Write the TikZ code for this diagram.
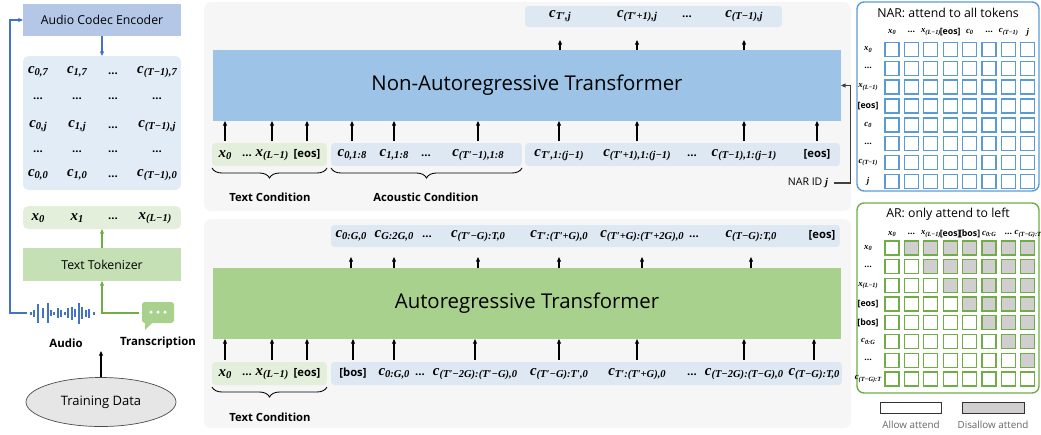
\documentclass[tikz,border=0pt]{standalone}
\usepackage{fontspec}
\setmainfont{Open Sans}
\newfontfamily\lsf{Liberation Serif}
\usetikzlibrary{positioning,calc,arrows.meta,decorations.pathreplacing,shapes.geometric}

\definecolor{encblue}{HTML}{B4C7E7}
\definecolor{codebg}{HTML}{E2ECF6}
\definecolor{txtbg}{HTML}{E3EFDA}
\definecolor{tokgreen}{HTML}{C5E0B4}
\definecolor{narblue}{HTML}{9DC3E6}
\definecolor{argreen}{HTML}{A9D18E}
\definecolor{panelbg}{HTML}{F6F6F6}
\definecolor{rowblue}{HTML}{DEE8F3}
\definecolor{lineblue}{HTML}{4472C4}
\definecolor{linegreen}{HTML}{70AD47}
\definecolor{gridblue}{HTML}{5B9BD5}
\definecolor{gridgreen}{HTML}{70AD47}
\definecolor{maskgray}{HTML}{D0CECE}
\definecolor{datagray}{HTML}{E7E6E6}

% token with subscript, in bold italic serif
\newcommand{\subfs}{6}
\newcommand{\cv}[2]{{\lsf\bfseries\itshape #1}\raisebox{-0.3ex}{\fontsize{\subfs}{\subfs}\selectfont\lsf\bfseries\itshape #2}}
\newcommand{\vj}{{\lsf\bfseries\itshape j}}
\newcommand{\tdots}{...}

\tikzset{
  box/.style={inner sep=0pt, outer sep=0pt},
  mlbl/.style={inner sep=0pt, font=\fontsize{8.5}{9}\selectfont\bfseries\renewcommand{\subfs}{6}},
  tlbl/.style={inner sep=0pt, font=\fontsize{6.4}{7}\selectfont\bfseries},
  glbl/.style={inner sep=0pt, font=\fontsize{5}{6}\selectfont\bfseries\renewcommand{\subfs}{3.6}},
  arr/.style={-{Triangle[length=2.6pt,width=2.2pt]}, line width=0.6pt},
  brc/.style={decorate, decoration={brace, mirror, amplitude=0.2cm}, line width=0.5pt},
  cell/.style={draw, line width=0.7pt, fill=white, minimum size=0.28cm, inner sep=0pt},
}

\begin{document}
\begin{tikzpicture}[x=0.02cm, y=-0.02cm]
\useasboundingbox (0,0) rectangle (1041,434);%

% Drawing audio codec encoder and codes
\node[box, fill=encblue, minimum width=3.16cm, minimum height=0.64cm, font=\fontsize{7}{9}\selectfont] (enc) at (102,20) {Audio Codec Encoder};%
\node[box, fill=codebg, rounded corners=3pt, minimum width=3.16cm, minimum height=2.68cm] (codes) at (102,123) {};%
\draw[arr, lineblue] (enc.south) -- (codes.north);%

% Marking codes
\node[mlbl] (c07) at (38,72) {\cv{c}{0,7}};%
\node[mlbl] (c17) at (77,72) {\cv{c}{1,7}};%
\node[tlbl] (cd7) at (113,74) {...};%
\node[mlbl] (cT7) at (157,72) {\cv{c}{(T−1),7}};%
\node[tlbl] (d01) at (38,99) {...};%
\node[tlbl] (d11) at (77,99) {...};%
\node[tlbl] (dd1) at (113,99) {...};%
\node[tlbl] (dT1) at (157,99) {...};%
\node[mlbl] (c0j) at (38,126) {\cv{c}{0,j}};%
\node[mlbl] (c1j) at (77,126) {\cv{c}{1,j}};%
\node[tlbl] (cdj) at (113,128) {...};%
\node[mlbl] (cTj) at (157,126) {\cv{c}{(T−1),j}};%
\node[tlbl] (d02) at (38,152) {...};%
\node[tlbl] (d12) at (77,152) {...};%
\node[tlbl] (dd2) at (113,152) {...};%
\node[tlbl] (dT2) at (157,152) {...};%
\node[mlbl] (c00) at (38,175) {\cv{c}{0,0}};%
\node[mlbl] (c10) at (77,175) {\cv{c}{1,0}};%
\node[tlbl] (cd0) at (113,177) {...};%
\node[mlbl] (cT0) at (157,175) {\cv{c}{(T−1),0}};%

% Drawing text tokens and tokenizer
\node[box, fill=txtbg, rounded corners=3pt, minimum width=3.16cm, minimum height=0.46cm] (xtok) at (102,217.5) {};%
\node[mlbl] (x0) at (38,218) {\cv{x}{0}};%
\node[mlbl] (x1) at (77,218) {\cv{x}{1}};%
\node[tlbl] (xd) at (113,219) {...};%
\node[mlbl] (xL) at (155,218) {\cv{x}{(L−1)}};%
\node[box, fill=tokgreen, minimum width=3.16cm, minimum height=0.66cm, font=\fontsize{7}{9}\selectfont] (tok) at (102,264.5) {Text Tokenizer};%
\draw[arr, linegreen] (tok.north) -- (xtok.south);%

% Drawing audio wave
\foreach \x/\h in {31/3,34/7,38/19,43/10,48/20,51/6,54/3,58/10,61/7,65/3,68/10,72/13,75/8,79/21,82/12,86/7,89/9,94/3}
  \draw[lineblue, line width=1.1pt] (\x,{313-\h/2}) -- (\x,{313+\h/2});%
\coordinate (audio) at (27,313);%
\draw[arr, lineblue] (audio) -- ++(-17,0) |- (enc.west);%
\node[inner sep=0pt, font=\fontsize{6.5}{8}\selectfont\bfseries] (audiolbl) at (66,343) {Audio};%

% Drawing transcription bubble
\fill[argreen, rounded corners=1.5pt] (142,302) rectangle (174,323);%
\fill[argreen] (145,321) -- (145,330) -- (154,321) -- cycle;%
\foreach \x in {151,158,165}
  \fill[white] (\x,312) circle[radius=0.035cm];%
\coordinate (trans) at (139,313);%
\draw[arr, linegreen] (trans) -| (tok.south);%
\node[inner sep=0pt, font=\fontsize{6.5}{8}\selectfont\bfseries] (translbl) at (158,343) {Transcription};%

% Drawing training data
\node[ellipse, draw=black!70, fill=datagray, minimum width=3.0cm, minimum height=0.98cm, inner sep=0pt, font=\fontsize{7.4}{9}\selectfont] (data) at (101,402) {Training Data};%
\coordinate (datain) at (101,351);%
\draw[arr] (data.north) -- (datain);%

% Drawing panels
\fill[panelbg, rounded corners=4pt] (204,2) rectangle (851,211);%
\fill[panelbg, rounded corners=4pt] (204,219) rectangle (851,428);%

% Drawing non-autoregressive transformer
\node[box, fill=narblue, minimum width=12.56cm, minimum height=1.42cm, font=\fontsize{11.6}{13}\selectfont] (nar) at (527,85.5) {Non-Autoregressive Transformer};%
\node[box, fill=rowblue, rounded corners=2pt, minimum width=5.14cm, minimum height=0.42cm] (narout) at (653.5,16.5) {};%
\node[box, fill=txtbg, rounded corners=2pt, minimum width=2.30cm, minimum height=0.46cm] (nartxt) at (269.5,154.5) {};%
\node[box, fill=rowblue, rounded corners=2pt, minimum width=3.82cm, minimum height=0.46cm] (naracu) at (426.5,154.5) {};%
\node[box, fill=rowblue, rounded corners=2pt, minimum width=6.30cm, minimum height=0.46cm] (nartgt) at (682.5,154.5) {};%

% Marking NAR inputs
\node[mlbl] (ni1) at (225,155) {\cv{x}{0}};%
\node[tlbl] (ni2) at (247,156) {...};%
\node[mlbl] (ni3) at (272,155) {\cv{x}{(L−1)}};%
\node[tlbl] (ni4) at (307,154) {[eos]};%
\node[mlbl] (ni5) at (352,155) {\cv{c}{0,1:8}};%
\node[mlbl] (ni6) at (394,155) {\cv{c}{1,1:8}};%
\node[tlbl] (ni7) at (426,156) {...};%
\node[mlbl] (ni8) at (478,155) {\cv{c}{(T′−1),1:8}};%
\node[mlbl] (ni9) at (559,155) {\cv{c}{T′,1:(j−1)}};%
\node[mlbl] (ni10) at (637,155) {\cv{c}{(T′+1),1:(j−1)}};%
\node[tlbl] (ni11) at (692,156) {...};%
\node[mlbl] (ni12) at (744,155) {\cv{c}{(T−1),1:(j−1)}};%
\node[tlbl] (ni13) at (817,154) {[eos]};%
\foreach \n in {ni1,ni3,ni4,ni5,ni6,ni8,ni9,ni10,ni12,ni13}
  \draw[arr] ($(\n |- nartxt.north)+(0,-2)$) -- (\n |- nar.south);%

% Marking NAR outputs
\node[mlbl] (no1) at (560,16) {\cv{c}{T′,j}};%
\node[mlbl] (no2) at (637,16) {\cv{c}{(T′+1),j}};%
\node[tlbl] (no3) at (687,17) {...};%
\node[mlbl] (no4) at (744,16) {\cv{c}{(T−1),j}};%
\foreach \n in {no1,no2,no4}
  \draw[arr] (\n |- nar.north) -- ($(\n |- narout.south)+(0,13)$);%

% Drawing conditions
\draw[brc] ([yshift=-0.04cm]nartxt.south west) -- ([yshift=-0.04cm]nartxt.south east);%
\node[tlbl] (txtcond) at (270,197) {Text Condition};%
\draw[brc] ([yshift=-0.04cm]naracu.south west) -- ([yshift=-0.04cm]naracu.south east);%
\node[tlbl] (acucond) at (426,197) {Acoustic Condition};%

% Marking NAR ID
\node[inner sep=0pt, font=\fontsize{6}{7}\selectfont] (narid) at (808,183) {NAR ID \vj};%
\draw[arr, black!75] ($(narid.east)+(6,0)$) -| ($(nar.east)+(10,0)$) -- (nar.east);%

% Drawing autoregressive transformer
\node[box, fill=argreen, minimum width=12.56cm, minimum height=1.42cm, font=\fontsize{11.6}{13}\selectfont] (ar) at (527,303.5) {Autoregressive Transformer};%
\node[box, fill=rowblue, rounded corners=2pt, minimum width=10.18cm, minimum height=0.44cm] (arout) at (585.5,236) {};%
\node[box, fill=txtbg, rounded corners=2pt, minimum width=2.30cm, minimum height=0.46cm] (artxt) at (269.5,373.5) {};%
\node[box, fill=rowblue, rounded corners=2pt, minimum width=10.22cm, minimum height=0.46cm] (arcode) at (586.5,373.5) {};%

% Marking AR outputs
\node[mlbl] (ao1) at (351,236) {\cv{c}{0:G,0}};%
\node[mlbl] (ao2) at (394,236) {\cv{c}{G:2G,0}};%
\node[tlbl] (ao3) at (427,237) {...};%
\node[mlbl] (ao4) at (478,236) {\cv{c}{(T′−G):T,0}};%
\node[mlbl] (ao5) at (559,236) {\cv{c}{T′:(T′+G),0}};%
\node[mlbl] (ao6) at (642,236) {\cv{c}{(T′+G):(T′+2G),0}};%
\node[tlbl] (ao7) at (694,237) {...};%
\node[mlbl] (ao8) at (751,236) {\cv{c}{(T−G):T,0}};%
\node[tlbl] (ao9) at (822,235) {[eos]};%
\foreach \n in {ao1,ao2,ao4,ao5,ao6,ao8}
  \draw[arr] (\n |- ar.north) -- ($(\n |- arout.south)+(0,10)$);%

% Marking AR inputs
\node[mlbl] (ai1) at (225,374) {\cv{x}{0}};%
\node[tlbl] (ai2) at (247,375) {...};%
\node[mlbl] (ai3) at (272,374) {\cv{x}{(L−1)}};%
\node[tlbl] (ai4) at (307,373) {[eos]};%
\node[tlbl] (ai5) at (353,373) {[bos]};%
\node[mlbl] (ai6) at (394,374) {\cv{c}{0:G,0}};%
\node[tlbl] (ai7) at (420,375) {...};%
\node[mlbl] (ai8) at (475,374) {\cv{c}{(T′−2G):(T′−G),0}};%
\node[mlbl] (ai9) at (559,374) {\cv{c}{(T′−G):T′,0}};%
\node[mlbl] (ai10) at (637,374) {\cv{c}{T′:(T′+G),0}};%
\node[tlbl] (ai11) at (692,375) {...};%
\node[mlbl] (ai12) at (744,374) {\cv{c}{(T−2G):(T−G),0}};%
\node[mlbl] (ai13) at (814,374) {\cv{c}{(T−G):T,0}};%
\foreach \n in {ai1,ai3,ai4,ai5,ai6,ai8,ai9,ai10,ai12,ai13}
  \draw[arr] ($(\n |- artxt.north)+(0,-2)$) -- (\n |- ar.south);%
\draw[brc] ([yshift=-0.04cm]artxt.south west) -- ([yshift=-0.04cm]artxt.south east);%
\node[tlbl] (artxtcond) at (270,417) {Text Condition};%

% Drawing NAR attention grid
\draw[gridblue, line width=0.8pt, rounded corners=4pt] (857,2) rectangle (1039,191);%
\node[inner sep=0pt, font=\fontsize{7}{9}\selectfont] (nartitle) at (948,13) {NAR: attend to all tokens};%
\foreach \t [count=\i from 0] in {{\cv{x}{0}},{\tdots},{\cv{x}{(L−1)}},{[eos]},{\cv{c}{0}},{\tdots},{\cv{c}{(T−1)}},{\vj}} {
  \node[glbl] (nh-\i) at ({892+19.4*\i},32) {\t};%
  \node[glbl] (nr-\i) at (868,{49.3+18.9*\i}) {\t};%
}
\foreach \r in {0,...,7}
  \foreach \c in {0,...,7}
    \node[cell, draw=gridblue] (nc-\r-\c) at ({892+19.4*\c},{49.3+18.9*\r}) {};%

% Drawing AR attention grid
\draw[gridgreen, line width=0.8pt, rounded corners=4pt] (857,203) rectangle (1039,393);%
\node[inner sep=0pt, font=\fontsize{7}{9}\selectfont] (artitle) at (948,214) {AR: only attend to left};%
\foreach \t [count=\i from 0] in {{\cv{x}{0}},{\tdots},{\cv{x}{(L−1)}},{[eos]},{[bos]},{\cv{c}{0:G}},{\tdots},{\cv{c}{(T−G):T}}} {
  \node[glbl] (ah-\i) at ({892+19.4*\i},234) {\t};%
  \node[glbl] (arow-\i) at (868,{248+18.7*\i}) {\t};%
}
\foreach \r in {0,...,7}
  \foreach \c in {0,...,7} {
    \ifnum\c>\r \def\cf{maskgray}\else\def\cf{white}\fi
    \node[cell, draw=gridgreen, fill=\cf] (ac-\r-\c) at ({892+19.4*\c},{248+18.7*\r}) {};%
  }

% Marking legend
\node[draw=black!80, fill=white, minimum width=1.22cm, minimum height=0.22cm, inner sep=0pt] (allow) at (910.5,407.5) {};%
\node[draw=black!80, fill=maskgray, minimum width=1.24cm, minimum height=0.22cm, inner sep=0pt] (disallow) at (993,407.5) {};%
\node[inner sep=0pt, text=black!60, font=\fontsize{5.6}{7}\selectfont] (allowlbl) at (911,425) {Allow attend};%
\node[inner sep=0pt, text=black!60, font=\fontsize{5.6}{7}\selectfont] (disallowlbl) at (993,425) {Disallow attend};%
\end{tikzpicture}
\end{document}
